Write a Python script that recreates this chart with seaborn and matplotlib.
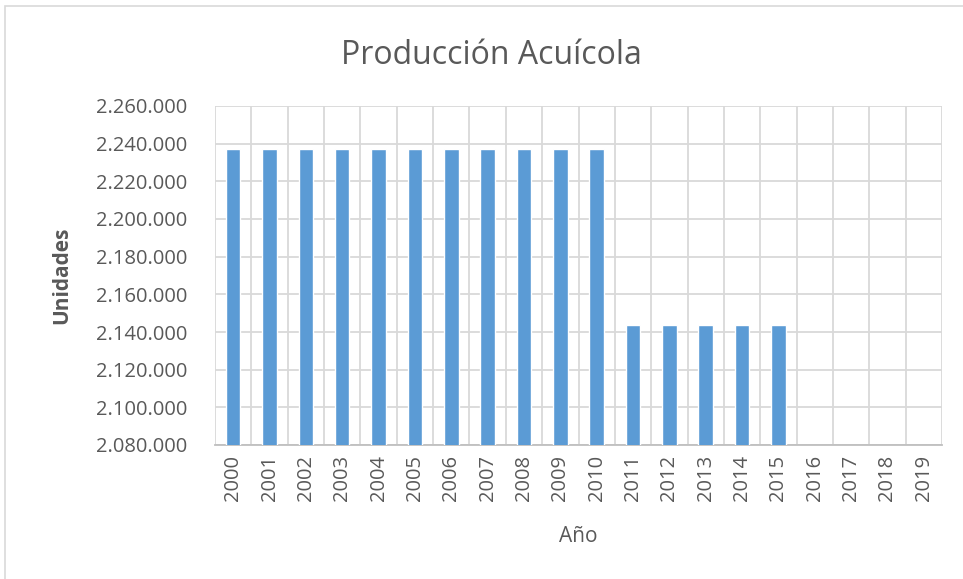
import matplotlib

matplotlib.use("Agg")
import matplotlib.pyplot as plt
import numpy as np
import seaborn as sns
from matplotlib.patches import Rectangle
from matplotlib.ticker import FuncFormatter

years = [str(y) for y in range(2000, 2020)]
produccion = [2237200] * 11 + [2143500] * 5 + [np.nan] * 4

y_min, y_max, y_step = 2080000, 2260000, 20000

sns.set_theme(style="white")
plt.rcParams["font.family"] = ["Open Sans", "DejaVu Sans"]

text_gray = "#595959"
grid_gray = "#d9d9d9"
W, H = 963, 579

fig = plt.figure(figsize=(W / 100, H / 100), dpi=100)
ax = fig.add_axes([215 / W, 1 - 445 / H, (942 - 215) / W, (445 - 106) / H])

sns.barplot(x=years, y=produccion, color="#5b9bd5", saturation=1, width=0.4, ax=ax, zorder=3)

ax.set_ylim(y_min, y_max)
ax.set_xlim(-0.5, len(years) - 0.5)
ax.set_yticks(np.arange(y_min, y_max + 1, y_step))
ax.yaxis.set_major_formatter(FuncFormatter(lambda v, _: f"{v:,.0f}".replace(",", ".")))

# horizontal gridlines + vertical category separators (Excel style)
ax.grid(axis="y", color=grid_gray, linewidth=1.3, zorder=0)
for b in np.arange(-0.5, len(years), 1.0):
    ax.axvline(b, color=grid_gray, linewidth=1.3, zorder=0)

for side in ["top", "right", "left"]:
    ax.spines[side].set_visible(False)
ax.spines["bottom"].set_color("#bfbfbf")
ax.spines["bottom"].set_linewidth(1.3)

ax.tick_params(axis="both", length=0, colors=text_gray, labelsize=14.5)
ax.tick_params(axis="x", rotation=90, pad=7)
ax.tick_params(axis="y", pad=20)
ax.set_xlabel("")
ax.set_ylabel("")

fig.text(491 / W, 1 - 55 / H, "Producción Acuícola", fontsize=23, color=text_gray,
         ha="center", va="center")
fig.text(578 / W, 1 - 537 / H, "Año", fontsize=15, color=text_gray, ha="center", va="center")
fig.text(62 / W, 1 - 275 / H, "Unidades", fontsize=15, color=text_gray, fontweight="bold",
         rotation=90, ha="center", va="center")

# chart area border
fig.patches.append(Rectangle((5 / W, -0.02), 1.1, 1 - 6 / H + 0.02, transform=fig.transFigure,
                             fill=False, edgecolor="#d9d9d9", linewidth=1.2))

fig.savefig("out.png", dpi=100)
